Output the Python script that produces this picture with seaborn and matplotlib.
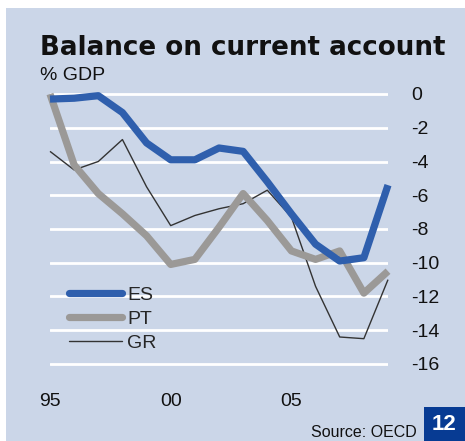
import matplotlib
matplotlib.use("Agg")
import matplotlib.pyplot as plt
import seaborn as sns
import pandas as pd
from matplotlib.patches import Rectangle
from matplotlib.lines import Line2D

years = list(range(1995, 2010))
es = [-0.3, -0.25, -0.1, -1.1, -2.9, -3.9, -3.9, -3.2, -3.4, -5.2, -7.1, -8.9, -9.9, -9.7, -5.4]
pt = [0.0, -4.2, -5.9, -7.1, -8.4, -10.1, -9.8, -7.9, -5.9, -7.5, -9.3, -9.8, -9.3, -11.8, -10.5]
gr = [-3.4, -4.5, -4.0, -2.7, -5.5, -7.8, -7.2, -6.8, -6.5, -5.7, -7.3, -11.4, -14.4, -14.5, -11.0]
yticks = [0, -2, -4, -6, -8, -10, -12, -14, -16]
xticks = [1995, 2000, 2005]
xticklabels = ["95", "00", "05"]

df = pd.DataFrame({"year": years * 3,
                   "value": es + pt + gr,
                   "country": ["ES"] * 15 + ["PT"] * 15 + ["GR"] * 15})

sns.set_theme(style="white")
plt.rcParams["font.family"] = ["Liberation Sans", "DejaVu Sans"]

W, H = 465, 441
fig = plt.figure(figsize=(W / 100, H / 100), dpi=100)
fig.patch.set_facecolor("white")
bg = "#CBD6E8"
fig.patches.append(Rectangle((6 / W, 0), 1 - 6 / W, (H - 8) / H, transform=fig.transFigure,
                             facecolor=bg, edgecolor="none", zorder=-2))
fig.patches.append(Rectangle((424 / W, 0), 1 - 424 / W, 34 / H, transform=fig.transFigure,
                             facecolor="#073B93", edgecolor="none", zorder=-1))

ylo, yhi = -16.1, 0.25
ppu = 16.875
top_px = 94 - yhi * ppu
bot_px = 364 + (-16 - ylo) * ppu
ax = fig.add_axes([50 / W, (H - bot_px) / H, (388 - 50) / W, (bot_px - top_px) / H])
ax.set_facecolor("none")

colors = {"ES": "#2F5FAD", "PT": "#9B9997", "GR": "#333333"}
widths = {"ES": 5.2, "PT": 5.2, "GR": 1.0}
for c in ["GR", "PT", "ES"]:
    sns.lineplot(data=df[df.country == c], x="year", y="value", ax=ax, color=colors[c],
                 linewidth=widths[c], solid_capstyle="butt", solid_joinstyle="round",
                 legend=False, clip_on=False)

ax.set_xlim(1995, 2009)
ax.set_ylim(ylo, yhi)
ax.set_yticks(yticks)
ax.set_yticklabels([str(v) for v in yticks])
ax.set_xticks(xticks)
ax.set_xticklabels(xticklabels)
ax.yaxis.tick_right()
ax.tick_params(axis="y", length=0, pad=17, labelsize=14, labelcolor="#111111")
ax.tick_params(axis="x", length=0, pad=20, labelsize=14, labelcolor="#111111")
for v in yticks:
    ax.axhline(v, color="white", lw=2, zorder=0.5)
for s in ax.spines.values():
    s.set_visible(False)
ax.set_xlabel("")
ax.set_ylabel("")

handles = [Line2D([0], [0], color=colors[c], lw=widths[c], solid_capstyle="round")
           for c in ["ES", "PT", "GR"]]
leg = ax.legend(handles, ["ES", "PT", "GR"], loc="upper left",
                bbox_to_anchor=(69 / W, (H - 286) / H), bbox_transform=fig.transFigure,
                frameon=False, fontsize=14, handlelength=2.75, handletextpad=0.25,
                labelspacing=0.33, borderpad=0, borderaxespad=0)

fig.text(40 / W, (H - 55) / H, "Balance on current account", fontsize=18.8,
         fontweight="bold", family="DejaVu Sans", color="#111111", va="baseline", ha="left")
fig.text(40 / W, (H - 80) / H, "% GDP", fontsize=14, color="#111111", va="baseline", ha="left")
fig.text(417 / W, (H - 437) / H, "Source: OECD", fontsize=11.5, color="#111111",
         va="baseline", ha="right")
fig.text(444 / W, 17 / H, "12", fontsize=16, fontweight="bold", color="white",
         va="center", ha="center")

fig.savefig("out.png", dpi=100, facecolor="white")
